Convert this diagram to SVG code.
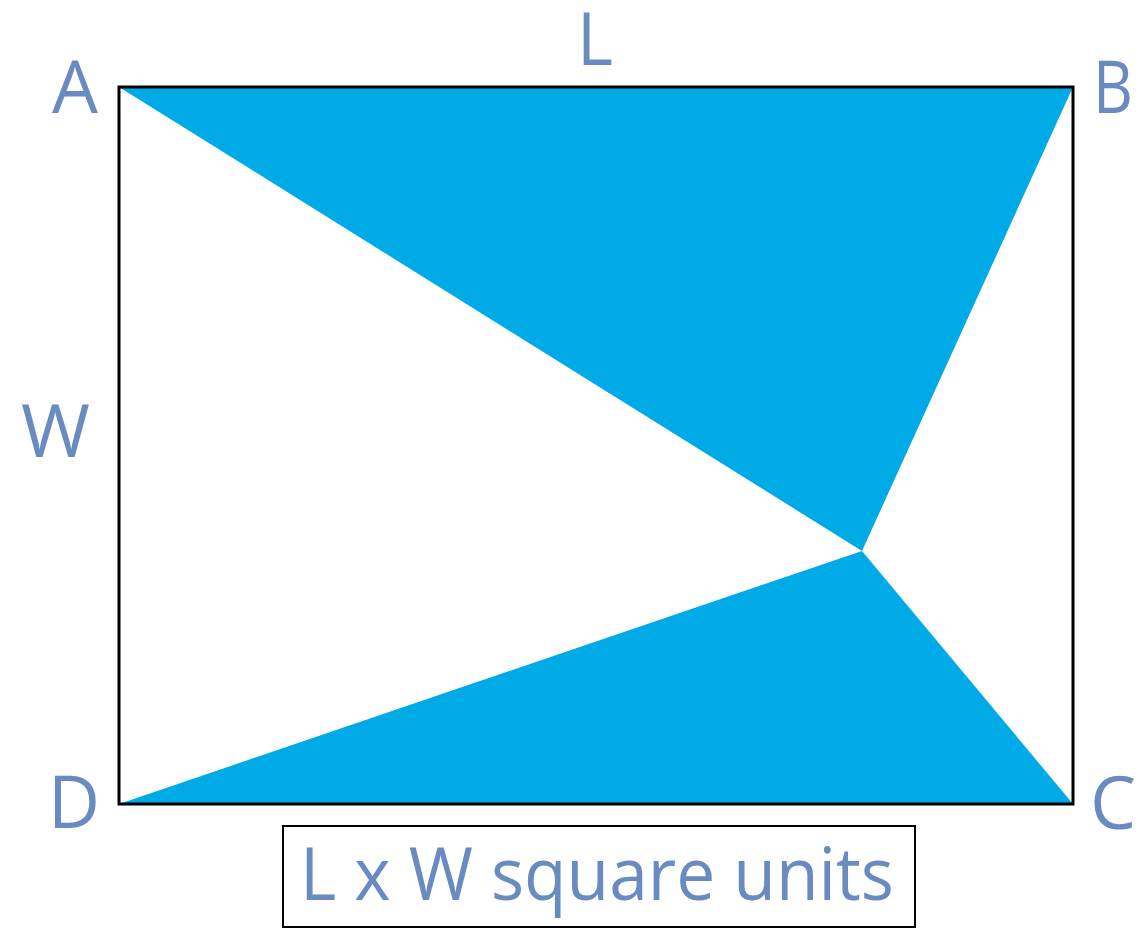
<svg xmlns="http://www.w3.org/2000/svg" width="1148" height="928" viewBox="0 0 1148 928">
<style>
.lbl{font-family:"Open Sans","Liberation Sans",sans-serif;font-size:73px;fill:#6A8BBF}
.tri{fill:#00AAE7;stroke:none}
</style>
<rect width="1148" height="928" fill="#fff"/>
<g id="shaded">
<polygon class="tri" points="119,87 1073,87 862,551"/>
<polygon class="tri" points="119,804 862,551 1073,804"/>
</g>
<g id="rectangle">
<rect x="119" y="87" width="954" height="717" fill="none" stroke="#000" stroke-width="3"/>
</g>
<g id="labels">
<text class="lbl" x="52" y="113" textLength="46" lengthAdjust="spacingAndGlyphs">A</text>
<text class="lbl" x="1093" y="113" textLength="40" lengthAdjust="spacingAndGlyphs">B</text>
<text class="lbl" x="577" y="65" textLength="36" lengthAdjust="spacingAndGlyphs">L</text>
<text class="lbl" x="21" y="457" textLength="69" lengthAdjust="spacingAndGlyphs">W</text>
<text class="lbl" x="48" y="828" textLength="52" lengthAdjust="spacingAndGlyphs">D</text>
<text class="lbl" x="1090" y="829" textLength="46" lengthAdjust="spacingAndGlyphs">C</text>
</g>
<g id="area-box">
<rect x="283" y="826" width="632" height="101" fill="none" stroke="#000" stroke-width="2"/>
<text class="lbl" x="300" y="900" textLength="594" lengthAdjust="spacingAndGlyphs">L x W square units</text>
</g>
</svg>
